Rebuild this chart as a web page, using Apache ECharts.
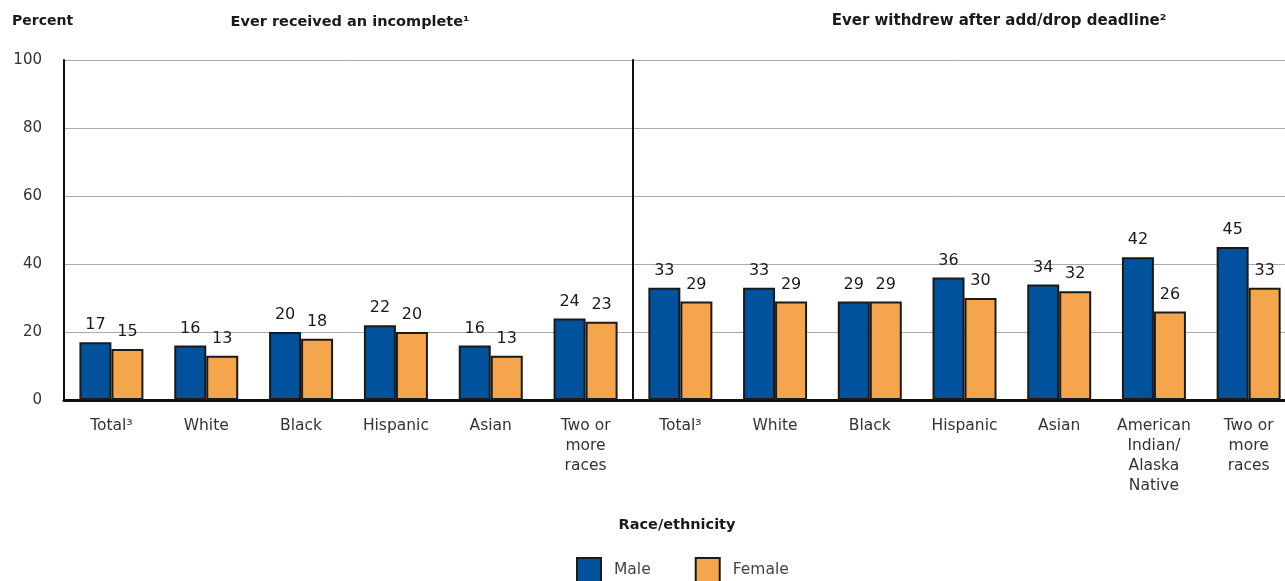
<!DOCTYPE html>
<html><head><meta charset="utf-8">
<script src="https://cdn.jsdelivr.net/npm/echarts@6/dist/echarts.min.js"></script>
<style>html,body{margin:0;padding:0;background:#fff}#c{width:1285px;height:581px}</style>
</head><body><div id="c"></div>
<script>
const categoriesLeft = ['Total³', 'White', 'Black', 'Hispanic', 'Asian', 'Two or\nmore\nraces'];
const maleIncomplete = [17, 16, 20, 22, 16, 24];
const femaleIncomplete = [15, 13, 18, 20, 13, 23];
const categoriesRight = ['Total³', 'White', 'Black', 'Hispanic', 'Asian', 'American\nIndian/\nAlaska\nNative', 'Two or\nmore\nraces'];
const maleWithdrew = [33, 33, 29, 36, 34, 42, 45];
const femaleWithdrew = [29, 29, 29, 30, 32, 26, 33];
const yTicks = [0, 20, 40, 60, 80, 100];

const BLUE = '#00529C', ORANGE = '#F5A64C';
const FONT = 'DejaVu Sans';
const chart = echarts.init(document.getElementById('c'), null, {renderer: 'canvas'});

function yAxis(gridIndex, showLabels) {
  return {
    type: 'value', gridIndex, min: yTicks[0], max: yTicks[yTicks.length - 1], interval: 20,
    axisLine: {show: true, lineStyle: {color: '#111', width: 2}},
    axisTick: {show: false},
    axisLabel: {show: showLabels, color: '#333', fontSize: 15, fontFamily: FONT, margin: 22},
    splitLine: {show: true, lineStyle: {color: '#aaa', width: 1}}
  };
}
function xAxis(gridIndex, data) {
  return {
    type: 'category', gridIndex, data,
    axisLine: {show: true, lineStyle: {color: '#111', width: 3}},
    axisTick: {show: false},
    axisLabel: {color: '#333', fontSize: 15.5, fontFamily: FONT, margin: 16, lineHeight: 20, interval: 0}
  };
}
function bar(name, color, data, idx) {
  return {
    name, type: 'bar', xAxisIndex: idx, yAxisIndex: idx, data,
    barWidth: 32, barGap: '0%',
    itemStyle: {color, borderColor: '#1a1a1a', borderWidth: 2},
    label: {show: true, position: 'top', distance: 9, color: '#1a1a1a', fontSize: 16, fontFamily: FONT},
    emphasis: {disabled: true}
  };
}

chart.setOption({
  animation: false,
  grid: [
    {left: 64, width: 569, top: 60, bottom: 181, containLabel: false, outerBoundsMode: 'none'},
    {left: 633, width: 663, top: 60, bottom: 181, containLabel: false, outerBoundsMode: 'none'}
  ],
  xAxis: [xAxis(0, categoriesLeft), xAxis(1, categoriesRight)],
  yAxis: [yAxis(0, true), yAxis(1, false)],
  legend: {
    data: ['Male', 'Female'], left: 576, top: 557, padding: 0, itemWidth: 24, itemHeight: 24, itemGap: 44,
    icon: 'rect',
    itemStyle: {borderColor: '#1a1a1a', borderWidth: 2},
    textStyle: {color: '#444', fontSize: 15.5, fontFamily: FONT, padding: [0, 0, 0, 8]}
  },
  graphic: [
    {type: 'text', left: 12, top: 14, style: {text: 'Percent', font: 'bold 14px ' + FONT, fill: '#1a1a1a'}},
    {type: 'text', x: 350, y: 15, style: {text: 'Ever received an incomplete¹', font: 'bold 14.5px ' + FONT, fill: '#1a1a1a', align: 'center'}},
    {type: 'text', x: 999, y: 14, style: {text: 'Ever withdrew after add/drop deadline²', font: 'bold 15px ' + FONT, fill: '#1a1a1a', align: 'center'}},
    {type: 'text', x: 677, y: 518, style: {text: 'Race/ethnicity', font: 'bold 14.5px ' + FONT, fill: '#1a1a1a', align: 'center'}}
  ],
  series: [
    bar('Male', BLUE, maleIncomplete, 0),
    bar('Female', ORANGE, femaleIncomplete, 0),
    bar('Male', BLUE, maleWithdrew, 1),
    bar('Female', ORANGE, femaleWithdrew, 1)
  ]
});
</script></body></html>
